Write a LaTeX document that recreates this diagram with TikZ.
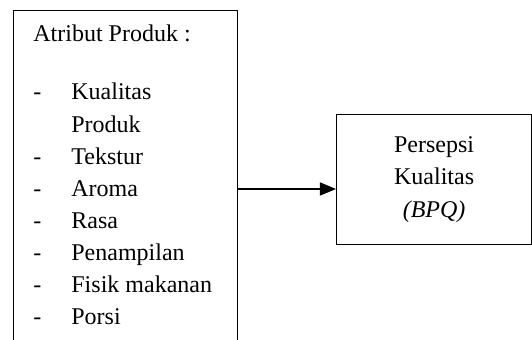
\documentclass[tikz,border=0pt]{standalone}
\usepackage{fontspec}
\setmainfont{Liberation Serif}
\usetikzlibrary{arrows.meta,positioning,calc}
\tikzset{
  box/.style      = {rectangle, draw=black, line width=0.6pt, inner sep=0pt, anchor=north west},
  itemtext/.style = {anchor=base west, inner sep=0pt, font=\fontsize{12}{14}\selectfont},
  conn/.style     = {-{Triangle[length=8pt,width=6.5pt]}, line width=0.75pt}
}

\begin{document}
\begin{tikzpicture}[x=0.5pt,y=-0.5pt]
\clip (0,0) rectangle (532,340);

% --- left box (attributes, runs past the bottom edge) ---
\node[box, minimum width=112pt, minimum height=180pt] (attr) at (13,10) {};

% --- right box ---
\node[box, minimum width=97.5pt, minimum height=65pt, align=center,
      font=\fontsize{12}{16.25}\selectfont] (bpq) at (336,114)
      {Persepsi\\Kualitas\\\textit{(BPQ)}};

% --- list of attributes ---
\node[itemtext] (head) at (33,42) {Atribut Produk :};
\foreach \txt [count=\i] in {Kualitas, Produk, Tekstur, Aroma, Rasa, Penampilan, Fisik makanan, Porsi}{
  \pgfmathsetmacro{\by}{100+32.1*(\i-1)}
  \node[itemtext] (item\i) at (71,\by) {\txt};
}
\foreach \i in {1,3,4,5,6,7,8}{
  \node[itemtext] (dash\i) at ($(item\i.base west)+(-38,0)$) {-};
}

% --- connection ---
\coordinate (arrowy) at (0,189);
\draw[conn] (attr.east |- arrowy) -- (bpq.west |- arrowy);

\end{tikzpicture}
\end{document}
